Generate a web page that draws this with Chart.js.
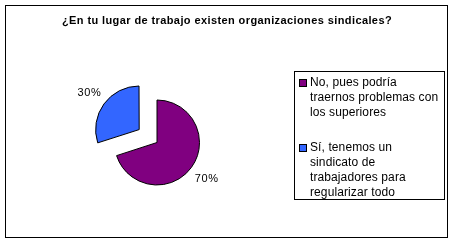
<!DOCTYPE html>
<html>
<head>
<meta charset="utf-8">
<script src="https://cdn.jsdelivr.net/npm/chart.js@4"></script>
<style>
  body { margin: 0; background: #fff; }
  #wrap { position: relative; width: 454px; height: 243px; font-family: Arial, "Liberation Sans", sans-serif; }
  #frame { position: absolute; left: 5px; top: 5px; width: 441px; height: 231px; border: 1px solid #000; }
  #title { position: absolute; left: 0; top: 14px; width: 454px; text-align: center; font-weight: bold; font-size: 11px; letter-spacing: 0.4px; color: #000; }
  #legend { position: absolute; left: 294px; top: 71px; width: 149px; height: 127px; border: 1px solid #000; font-size: 12px; line-height: 15px; letter-spacing: 0.1px; color: #000; }
  .item { position: absolute; left: 15px; white-space: nowrap; }
  .box { position: absolute; left: -11px; top: 4px; width: 6px; height: 6px; border: 1px solid #000; }
  canvas { position: absolute; left: 0; top: 0; }
</style>
</head>
<body>
<div id="wrap">
  <div id="frame"></div>
  <canvas id="pie" width="454" height="243"></canvas>
  <div id="title"></div>
  <div id="legend"></div>
</div>
<script>
// Pie chart data (labels split into the lines shown in the legend)
const title = '¿En tu lugar de trabajo existen organizaciones sindicales?';
const categories = [
  ['No, pues podría', 'traernos problemas con', 'los superiores'],
  ['Sí, tenemos un', 'sindicato de', 'trabajadores para', 'regularizar todo']
];
const values = [70, 30];
const colors = ['#800080', '#3366FF'];

document.getElementById('title').textContent = title;

// legend in html, like the boxed legend of the original
const legend = document.getElementById('legend');
const tops = [2.5, 67.5];
categories.forEach((lines, i) => {
  const d = document.createElement('div');
  d.className = 'item';
  d.style.top = tops[i] + 'px';
  const box = document.createElement('span');
  box.className = 'box';
  box.style.background = colors[i];
  d.appendChild(box);
  lines.forEach((l, j) => {
    if (j) d.appendChild(document.createElement('br'));
    d.appendChild(document.createTextNode(l));
  });
  legend.appendChild(d);
});

// percent labels outside each slice
const outsideLabels = {
  id: 'outsideLabels',
  afterDatasetsDraw(chart) {
    const ctx = chart.ctx;
    const meta = chart.getDatasetMeta(0);
    const total = values.reduce((a, b) => a + b, 0);
    ctx.save();
    ctx.font = '11px Arial, "Liberation Sans", sans-serif';
    ctx.letterSpacing = '0.6px';
    ctx.fillStyle = '#000';
    ctx.textAlign = 'center';
    ctx.textBaseline = 'middle';
    meta.data.forEach((arc, i) => {
      const p = arc.getProps(['x', 'y', 'startAngle', 'endAngle', 'outerRadius'], true);
      const mid = (p.startAngle + p.endAngle) / 2;
      const off = (arc.options.offset || 0) / 4; // chart.js draws offset / 4
      const r = p.outerRadius + off + 19;
      ctx.fillText(Math.round(values[i] / total * 100) + '%', p.x + Math.cos(mid) * r, p.y + Math.sin(mid) * r);
    });
    ctx.restore();
  }
};

new Chart(document.getElementById('pie'), {
  type: 'pie',
  data: {
    labels: categories,
    datasets: [{
      data: values,
      backgroundColor: colors,
      borderColor: '#000',
      borderWidth: 1,
      offset: [0, 88]
    }]
  },
  options: {
    responsive: false,
    animation: false,
    layout: {
      padding: { left: 70, right: 210, top: 55, bottom: 13 }
    },
    plugins: {
      legend: { display: false },
      tooltip: { enabled: false }
    }
  },
  plugins: [outsideLabels]
});
</script>
</body>
</html>
